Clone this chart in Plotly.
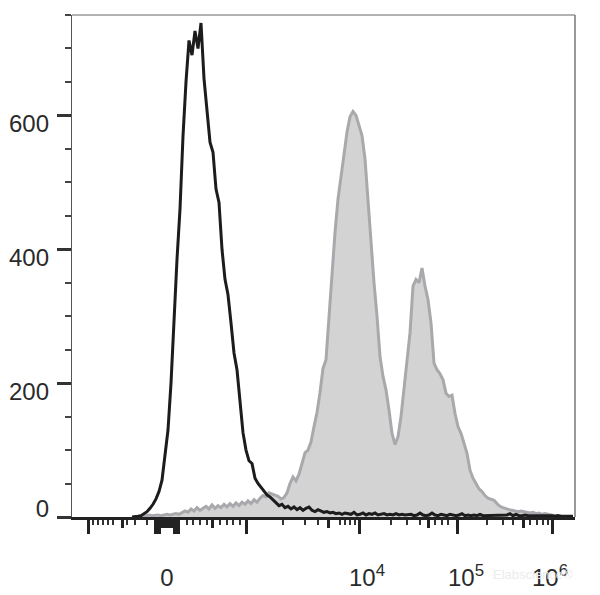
import plotly.graph_objects as go

# ---- data (display channel scale 0..1006, counts) ----
BLACK_START, BLACK_STEP = 120, 6
black_counts = [0, 0, 1, 2, 5, 8, 13, 19, 27, 38, 55, 95, 130, 200, 300, 385, 460, 569, 650, 712,
                690, 726, 700, 738, 655, 609, 560, 545, 490, 470, 400, 355, 332, 290, 245, 220, 175, 126, 100, 84,
                80, 58, 50, 44, 38, 33, 30, 26, 22, 17, 19, 14, 16, 12, 15, 11, 14, 10, 13, 15,
                10, 8, 11, 9, 7, 8, 6, 7, 5, 6, 4, 6, 5, 4, 7, 3,
                4, 6, 3, 5, 4, 6, 3, 4, 5, 3, 4, 3, 5, 3, 4, 3, 3, 4, 2, 3, 6, 3, 2, 3, 6, 3, 2, 4,
                3, 2, 4, 3, 2, 3, 5, 2, 3, 2, 3, 2, 4, 2, 2, 3, 2, 2, 3, 2, 2, 3, 5, 2, 4, 2, 2, 3,
                2, 2, 3, 2, 2, 3, 2, 2, 2, 1, 2, 1, 1, 2, 1, 1]

GREY_START, GREY_STEP = 124, 6
grey_counts = [0, 1, 1, 2, 2, 3, 2, 3, 3, 2, 3, 4, 3, 4, 5, 4, 6, 9, 7, 12,
               9, 14, 10, 13, 16, 12, 18, 13, 17, 14, 19, 15, 20, 16, 21, 17, 22, 19, 24, 20,
               26, 22, 28, 32, 30, 36, 34, 33, 31, 27, 29, 36, 50, 60, 54, 64, 80, 96, 100, 112,
               135, 156, 186, 222, 235, 300, 370, 425, 475, 510, 545, 575, 598, 606, 600, 585, 570, 535, 470, 415,
               350, 300, 240, 210, 190, 160, 125, 108, 120, 150, 195, 240, 275, 345, 355, 350, 372, 345, 325, 290,
               230, 220, 214, 205, 185, 180, 182, 155, 135, 125, 110, 95, 70, 58, 50, 42, 38, 32, 28, 27,
               25, 20, 16, 14, 12, 11, 10, 9, 8, 9, 8, 7, 6, 7, 5, 6, 4, 5, 4, 3, 3, 1, 0]

# ---- axis ticks (display channels) ----
X_RANGE = [0, 1006]
x_long_ticks = [32, 166, 170, 174, 204, 208, 212, 348, 574, 770, 960]
x_mid_ticks = [100, 178, 182, 186, 190, 194, 198, 280, 512, 712, 902]
x_short_ticks = [42, 52, 62, 72, 82, 110, 126, 150, 230, 242, 256, 270, 296, 310, 322, 336,
                 422, 466, 492, 536, 546, 556, 566, 638, 670, 696, 726, 740, 752,
                 830, 862, 882, 916, 930, 942, 952]
x_label_pos = [190, 590, 788, 956]
x_label_text = ["0", "10<sup>4</sup>", "10<sup>5</sup>", "10<sup>6</sup>"]

Y_RANGE = [0, 750]
y_major = [0, 200, 400, 600]
y_minor = [50, 100, 150, 250, 300, 350, 450, 500, 550, 650, 700, 750]
y_label_pos = [13, 187, 388, 588]
y_label_text = ["0", "200", "400", "600"]

x_black = [BLACK_START + i * BLACK_STEP for i in range(len(black_counts))]
x_grey = [GREY_START + i * GREY_STEP for i in range(len(grey_counts))]

FONT = "Liberation Sans, Arial, sans-serif"
fig = go.Figure()
fig.add_trace(go.Scatter(x=x_grey, y=grey_counts, mode="lines", fill="tozeroy",
                         fillcolor="#d3d3d3", line=dict(color="#a9a9ad", width=3),
                         showlegend=False, hoverinfo="skip"))
fig.add_trace(go.Scatter(x=x_black, y=black_counts, mode="lines",
                         line=dict(color="#1c1c1c", width=3),
                         showlegend=False, hoverinfo="skip"))
# invisible anchors for overlay axes
for xa, ya in [("x2", "y"), ("x3", "y"), ("x", "y2")]:
    fig.add_trace(go.Scatter(x=[500], y=[300], xaxis=xa, yaxis=ya, mode="markers",
                             marker=dict(opacity=0), showlegend=False, hoverinfo="skip"))

common_x = dict(range=X_RANGE, showgrid=False, zeroline=False, fixedrange=True, automargin=False)
common_y = dict(range=Y_RANGE, showgrid=False, zeroline=False, fixedrange=True, automargin=False)

# page body has an 8px margin, so the figure is sized/offset to compensate
fig.update_layout(
    width=592, height=587,
    margin=dict(l=64, r=25, t=7, b=78),
    paper_bgcolor="white", plot_bgcolor="white",
    font=dict(family=FONT, size=24, color="#2a2a2a"),
    xaxis=dict(**common_x, showline=True, linecolor="#222", linewidth=2.5,
               ticks="outside", tickmode="array", tickvals=x_long_ticks,
               ticklen=14, tickwidth=3, tickcolor="#222", showticklabels=False,
               minor=dict(tickmode="array", tickvals=x_short_ticks, ticks="outside",
                          ticklen=5, tickwidth=2, tickcolor="#333", showgrid=False)),
    xaxis2=dict(**common_x, overlaying="x", anchor="y", side="bottom", showline=False,
                ticks="outside", tickmode="array", tickvals=x_mid_ticks,
                ticklen=10, tickwidth=3, tickcolor="#222", showticklabels=False),
    xaxis3=dict(**common_x, overlaying="x", anchor="y", side="bottom", showline=False,
                ticks="", tickmode="array", tickvals=x_label_pos, ticktext=x_label_text,
                tickfont=dict(family=FONT, size=24, color="#2a2a2a"),
                ticklabelstandoff=44),
    yaxis=dict(**common_y, showline=True, linecolor="#555", linewidth=1,
               ticks="outside", tickmode="array", tickvals=y_major,
               ticklen=14, tickwidth=3, tickcolor="#333", showticklabels=False,
               minor=dict(tickmode="array", tickvals=y_minor, ticks="outside",
                          ticklen=6, tickwidth=1.5, tickcolor="#444", showgrid=False)),
    yaxis2=dict(**common_y, overlaying="y", anchor="x", side="left", showline=False,
                ticks="", tickmode="array", tickvals=y_label_pos, ticktext=y_label_text,
                tickfont=dict(family=FONT, size=24, color="#2a2a2a"),
                ticklabelstandoff=22),
    shapes=[
        dict(type="line", xref="paper", yref="paper", x0=0, x1=1, y0=1, y1=1,
             line=dict(color="#666", width=1)),
        dict(type="line", xref="paper", yref="paper", x0=1, x1=1, y0=0, y1=1,
             line=dict(color="#777", width=1.5)),
    ],
    annotations=[
        dict(text="Elabscience®", xref="paper", yref="paper", x=1.0, y=-0.115,
             xanchor="right", yanchor="middle", showarrow=False,
             font=dict(family=FONT, size=13, color="#ececec")),
    ],
)

fig.write_html("out.html")
